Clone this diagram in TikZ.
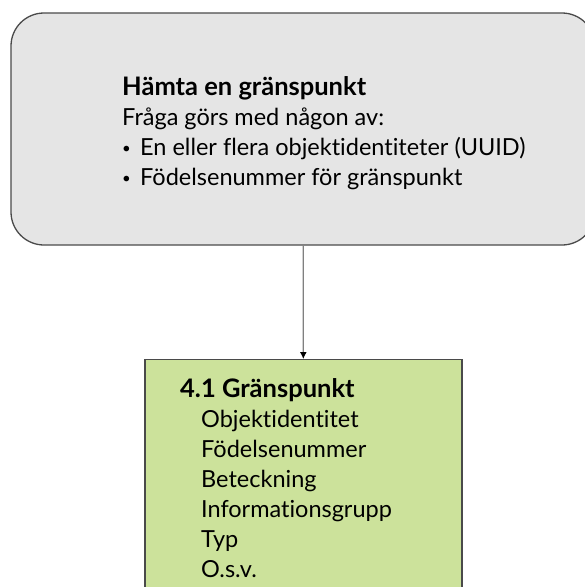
\documentclass[tikz,border=0pt]{standalone}
\usepackage{fontspec}
\setmainfont{Lato}[Ligatures=NoCommon]
\usepackage{tikz}
\usetikzlibrary{arrows.meta}
\definecolor{boxgray}{HTML}{E5E5E5}
\definecolor{boxgreen}{HTML}{CCE29B}
\definecolor{edgegray}{HTML}{4A4A4A}
\definecolor{linegray}{HTML}{808080}
\tikzset{
    query/.style={draw=edgegray, fill=boxgray, rounded corners=33pt, line width=1.3pt,
        minimum width=584pt, minimum height=232pt},
    feature/.style={draw=edgegray, fill=boxgreen, line width=1.3pt,
        minimum width=317pt, minimum height=240pt},
    boxtext/.style={align=left, anchor=north west, inner sep=0pt,
        font=\fontsize{23.5}{30}\selectfont}}
\newcommand{\blt}{\makebox[18pt][l]{\raisebox{2pt}{\fontsize{15}{15}\selectfont\textbullet}}}
\newcommand{\hd}[1]{{\fontsize{25.5}{30}\selectfont\bfseries #1}}

\begin{document}
\begin{tikzpicture}[x=1pt, y=-1pt]
        \useasboundingbox (0,0) rectangle (585,587);
        \clip (0,0) rectangle (585,587);

                    \node[query] (Q) at (303,129) {};
                    \node[feature, anchor=north] (G) at (303.5,359) {};

                    \node[boxtext] (Qtext) at (122,76) {\hd{Hämta en gränspunkt}\\
                        Fråga görs med någon av:\\
                        \blt En eller flera objektidentiteter (UUID)\\
                        \blt Födelsenummer för gränspunkt};
                    \node[boxtext] (Gtext) at (180,378) {\hd{4.1 Gränspunkt}\\
                        \hspace*{21pt}Objektidentitet\\
                        \hspace*{21pt}Födelsenummer\\
                        \hspace*{21pt}Beteckning\\
                        \hspace*{21pt}Informationsgrupp\\
                        \hspace*{21pt}Typ\\
                        \hspace*{21pt}O.s.v.};

                    \draw[linegray, line width=1.2pt, -{Latex[length=7pt, width=7pt, color=black]}] (Q) -- (G);

                \end{tikzpicture}
\end{document}
